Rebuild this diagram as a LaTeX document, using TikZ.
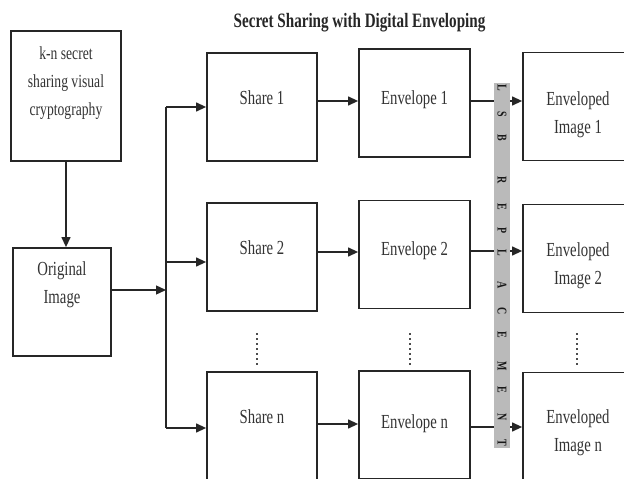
\documentclass[tikz,border=0pt]{standalone}
\usepackage{fontspec}
\setmainfont[FakeStretch=0.74]{Liberation Serif}
\usetikzlibrary{arrows.meta}
\begin{document}
\begin{tikzpicture}[x=1bp,y=-1bp,
 box/.style={draw=black!85,line width=1.8bp,minimum width=110bp,minimum height=108bp,inner sep=0pt},
 lbl/.style={font=\fontsize{20}{28}\selectfont,text=black!80,align=center,inner sep=0pt},
 arr/.style={draw=black!85,line width=1.3bp,-{Triangle[length=10bp,width=9bp]}},
 ln/.style={draw=black!85,line width=1.3bp},
 dotsline/.style={draw=black!70,line width=1.3bp,dash pattern=on 1.5bp off 3.5bp},
 ltr/.style={font=\bfseries\fontsize{13.5}{13.5}\selectfont,rotate=-90,inner sep=0pt,text=black!90}]
\useasboundingbox (0,0) rectangle (624,479);
\clip (0,0) rectangle (624,479);

% title
\node[font=\bfseries\fontsize{20.5}{24}\selectfont,text=black!85,inner sep=0pt] (title) at (359.5,23) {Secret Sharing with Digital Enveloping};

% left column
\node[box,minimum height=130bp] (kn) at (66,96) {};
\node[lbl,font=\fontsize{18.5}{28.5}\selectfont] (knt) at (66,83) {k-n secret\\sharing visual\\cryptography};
\node[box,minimum width=98bp] (orig) at (62,302) {};
\node[lbl] (origt) at (62,285) {Original\\Image};

% shares
\node[box] (s1) at (262,107) {};
\node[lbl] (s1t) at (262,98) {Share 1};
\node[box] (s2) at (262,257) {};
\node[lbl] (s2t) at (262,248) {Share 2};
\node[box] (sn) at (262,426) {};
\node[lbl] (snt) at (262,417) {Share n};

% envelopes
\node[box,minimum width=111bp] (e1) at (414.5,103) {};
\node[lbl] (e1t) at (414.5,100) {Envelope 1};
\node[box,minimum width=111bp] (e2) at (414.5,254.5) {};
\node[lbl] (e2t) at (414.5,251) {Envelope 2};
\node[box,minimum width=111bp] (en) at (414.5,425) {};
\node[lbl] (ent) at (414.5,424) {Envelope n};

% enveloped images
\node[box] (im1) at (578,106.5) {};
\node[lbl] (im1t) at (578,115) {Enveloped\\Image 1};
\node[box] (im2) at (578,258.5) {};
\node[lbl] (im2t) at (578,266) {Enveloped\\Image 2};
\node[box] (imn) at (578,426.5) {};
\node[lbl] (imnt) at (578,433) {Enveloped\\Image n};

% connectors
\coordinate (bj) at (166,290);
\coordinate (bt) at (166,107);
\coordinate (b2) at (166,262);
\coordinate (bb) at (166,428);
\coordinate (r1) at (0,101);
\coordinate (r2a) at (0,252);
\coordinate (r2b) at (0,251);
\coordinate (rna) at (0,424);
\coordinate (rnb) at (0,427);

\draw[arr] (kn.south) -- (kn.south |- orig.north);
\draw[ln] (bt) -- (bb);
\draw[arr] (orig.east |- bj) -- (bj);
\draw[arr] (bt) -- (s1.west |- bt);
\draw[arr] (b2) -- (s2.west |- b2);
\draw[arr] (bb) -- (sn.west |- bb);

\draw[arr] (s1.east |- r1) -- (e1.west |- r1);
\draw[arr] (s2.east |- r2a) -- (e2.west |- r2a);
\draw[arr] (sn.east |- rna) -- (en.west |- rna);

\draw[arr] (e1.east |- r1) -- (im1.west |- r1);
\draw[arr] (e2.east |- r2b) -- (im2.west |- r2b);
\draw[arr] (en.east |- rnb) -- (imn.west |- rnb);

% LSB replacement strip
\node[fill=black!27,minimum width=16bp,minimum height=365bp,inner sep=0pt] (strip) at (502,265.5) {};
\foreach \c/\yy [count=\i] in {L/88,S/114,B/138,R/180,E/207,P/231,L/253,A/285,C/311,E/335,M/366,E/390,N/417,T/443}
  \node[ltr] (lsb\i) at (502,\yy) {\c};

% ellipsis dots
\coordinate (d1a) at (257,333); \coordinate (d1b) at (257,366);
\coordinate (d2a) at (410,333); \coordinate (d2b) at (410,366);
\coordinate (d3a) at (577,333); \coordinate (d3b) at (577,366);
\draw[dotsline] (d1a) -- (d1b);
\draw[dotsline] (d2a) -- (d2b);
\draw[dotsline] (d3a) -- (d3b);
\end{tikzpicture}
\end{document}
